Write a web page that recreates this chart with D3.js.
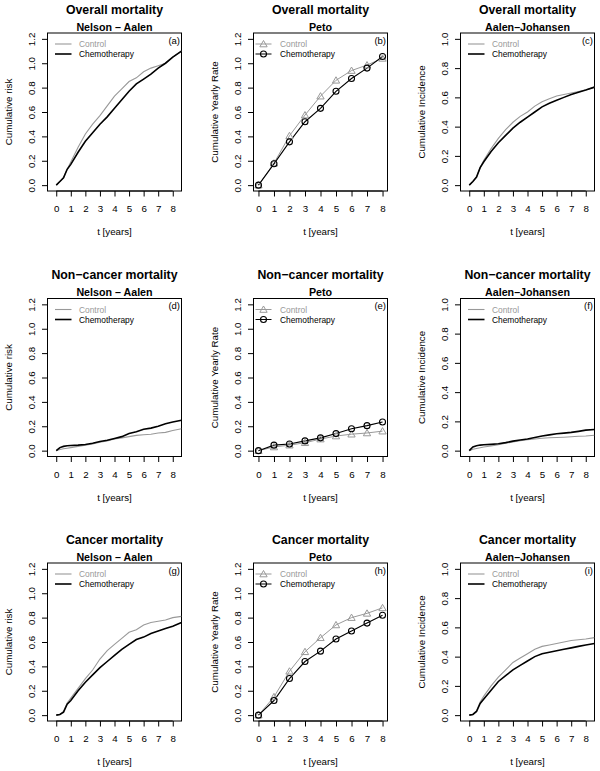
<!DOCTYPE html>
<html><head><meta charset="utf-8">
<script src="https://cdn.jsdelivr.net/npm/d3@7"></script>
<style>body{margin:0;background:#fff}svg{display:block;font-family:"Liberation Sans",Arial,sans-serif}</style>
</head><body>
<script>
// ---- data ----
const rowTitles = ["Overall mortality", "Non\u2212cancer mortality", "Cancer mortality"];
const colTitles = ["Nelson \u2013 Aalen", "Peto", "Aalen\u2013Johansen"];
const yLabels = ["Cumulative risk", "Cumulative Yearly Rate", "Cumulative Incidence"];
const panelTags = ["(a)","(b)","(c)","(d)","(e)","(f)","(g)","(h)","(i)"];
const seriesNames = ["Control", "Chemotherapy"];
const xTicks = [0,1,2,3,4,5,6,7,8];
const yTicksRisk = [0,0.2,0.4,0.6,0.8,1.0,1.2];
const yTicksInc = [0,0.2,0.4,0.6,0.8,1.0];

const tGrid = [0,0.25,0.5,0.75,1,1.5,2,2.5,3,3.5,4,4.5,5,5.5,6,6.5,7,7.5,8,8.6];
const petoYears = [0,1,2,3,4,5,6,7,8];

const naOverallControl = [0,0.03,0.06,0.13,0.19,0.31,0.42,0.50,0.57,0.65,0.73,0.79,0.85,0.88,0.93,0.96,0.98,1.00,1.05,1.10];
const naOverallChemo   = [0,0.03,0.06,0.13,0.17,0.27,0.36,0.43,0.50,0.56,0.63,0.70,0.77,0.83,0.87,0.91,0.96,1.00,1.05,1.10];
const petoOverallControl = [0,0.18,0.405,0.575,0.73,0.86,0.94,0.985,1.04];
const petoOverallChemo   = [0,0.175,0.355,0.52,0.63,0.77,0.875,0.96,1.055];
const ajOverallControl = [0,0.025,0.055,0.12,0.17,0.25,0.32,0.38,0.43,0.47,0.50,0.54,0.57,0.59,0.61,0.62,0.63,0.64,0.65,0.67];
const ajOverallChemo   = [0,0.025,0.055,0.12,0.16,0.23,0.29,0.34,0.39,0.43,0.465,0.50,0.535,0.56,0.58,0.60,0.62,0.635,0.65,0.67];

const naNonCancerControl = [0,0.01,0.015,0.02,0.025,0.035,0.045,0.055,0.07,0.08,0.095,0.105,0.115,0.125,0.13,0.135,0.145,0.15,0.165,0.18];
const naNonCancerChemo   = [0,0.025,0.035,0.04,0.042,0.045,0.05,0.06,0.075,0.085,0.10,0.115,0.14,0.155,0.175,0.185,0.20,0.22,0.235,0.25];
const petoNonCancerControl = [0,0.03,0.045,0.065,0.095,0.12,0.135,0.145,0.16];
const petoNonCancerChemo   = [0,0.045,0.055,0.08,0.105,0.14,0.18,0.205,0.235];
const ajNonCancerControl = [0,0.01,0.015,0.02,0.025,0.032,0.04,0.05,0.06,0.068,0.075,0.08,0.085,0.088,0.09,0.092,0.095,0.098,0.10,0.105];
const ajNonCancerChemo   = [0,0.025,0.033,0.038,0.04,0.043,0.047,0.055,0.065,0.073,0.08,0.09,0.10,0.108,0.115,0.12,0.125,0.132,0.14,0.145];

const naCancerControl = [0,0.005,0.03,0.10,0.14,0.22,0.30,0.37,0.46,0.53,0.58,0.63,0.68,0.70,0.74,0.76,0.77,0.78,0.80,0.81];
const naCancerChemo   = [0,0.005,0.025,0.09,0.12,0.20,0.27,0.33,0.39,0.44,0.49,0.54,0.58,0.62,0.64,0.67,0.69,0.71,0.73,0.76];
const petoCancerControl = [0,0.15,0.36,0.52,0.635,0.74,0.80,0.835,0.88];
const petoCancerChemo   = [0,0.12,0.30,0.44,0.525,0.625,0.69,0.755,0.82];
const ajCancerControl = [0,0.005,0.03,0.09,0.13,0.20,0.26,0.31,0.36,0.39,0.42,0.45,0.47,0.48,0.49,0.50,0.51,0.515,0.52,0.53];
const ajCancerChemo   = [0,0.005,0.025,0.08,0.11,0.17,0.23,0.27,0.31,0.34,0.37,0.40,0.42,0.43,0.44,0.45,0.46,0.47,0.48,0.49];

const panelData = [
  [[naOverallControl, naOverallChemo], [petoOverallControl, petoOverallChemo], [ajOverallControl, ajOverallChemo]],
  [[naNonCancerControl, naNonCancerChemo], [petoNonCancerControl, petoNonCancerChemo], [ajNonCancerControl, ajNonCancerChemo]],
  [[naCancerControl, naCancerChemo], [petoCancerControl, petoCancerChemo], [ajCancerControl, ajCancerChemo]]
];

// ---- layout ----
const W = 600, H = 771;
const boxLeft = [47.5, 253.5, 460.5], boxW = 134;
const boxTop = [33, 298.5, 563], boxH = 158;
const GRAY = "#999999";
const svg = d3.select("body").append("svg").attr("width", W).attr("height", H);

for (let r = 0; r < 3; r++) {
  for (let c = 0; c < 3; c++) {
    const L = boxLeft[c], T = boxTop[r];
    const g = svg.append("g");
    const isPeto = c === 1, isAJ = c === 2;
    const x = d3.scaleLinear().domain(isPeto ? [-0.32, 8.32] : [-0.6, 8.6]).range([L, L + boxW]);
    const y = d3.scaleLinear().domain(isAJ ? [-0.04, 1.04] : [-0.048, 1.248]).range([T + boxH, T]);
    const cx = L + boxW / 2;

    // titles
    g.append("text").attr("x", cx).attr("y", T - 19.5).attr("text-anchor", "middle")
      .attr("font-size", 12.3).attr("font-weight", "bold").text(rowTitles[r]);
    g.append("text").attr("x", cx).attr("y", T - 2.5).attr("text-anchor", "middle")
      .attr("font-size", 10.7).attr("font-weight", "bold").text(colTitles[c]);

    // axes
    const xa = g.append("g").attr("transform", `translate(0,${T + boxH})`)
      .call(d3.axisBottom(x).tickValues(xTicks).tickSize(5.5).tickPadding(4).tickFormat(d3.format("d")));
    xa.select(".domain").attr("d", `M${x(0)},0H${x(8)}`).attr("stroke", "#000");
    xa.selectAll("text").attr("font-size", 9.75).attr("dy", null).attr("y", 21);
    xa.attr("font-family", null);

    const yt = isAJ ? yTicksInc : yTicksRisk;
    const ya = g.append("g").attr("transform", `translate(${L},0)`)
      .call(d3.axisLeft(y).tickValues(yt).tickSize(5.5).tickFormat(d3.format(".1f")));
    ya.select(".domain").attr("d", `M0,${y(yt[0])}V${y(yt[yt.length - 1])}`).attr("stroke", "#000");
    ya.attr("font-family", null);
    ya.selectAll(".tick text").attr("font-size", 9.75).attr("x", null).attr("dy", null)
      .attr("text-anchor", "middle").attr("transform", "translate(-12.5,0) rotate(-90)").attr("y", 0);

    // axis titles
    g.append("text").attr("x", cx).attr("y", T + boxH + 44).attr("text-anchor", "middle")
      .attr("font-size", 9.75).text("t [years]");
    g.append("text").attr("transform", `translate(${L - 36},${T + boxH / 2}) rotate(-90)`)
      .attr("text-anchor", "middle").attr("font-size", 9.75).text(yLabels[c]);

    // box
    g.append("rect").attr("x", L).attr("y", T).attr("width", boxW).attr("height", boxH)
      .attr("fill", "none").attr("stroke", "#000").attr("stroke-width", 1);

    // clip
    const clipId = `clip${r}${c}`;
    svg.append("clipPath").attr("id", clipId).append("rect")
      .attr("x", L).attr("y", T).attr("width", boxW).attr("height", boxH);
    const pg = g.append("g").attr("clip-path", `url(#${clipId})`);

    const [ctrl, chemo] = panelData[r][c];
    const times = isPeto ? petoYears : tGrid;
    const line = d3.line().x((d, i) => x(times[i])).y(d => y(d));
    const tri = d3.symbol().type(d3.symbolTriangle).size(23);

    if (isPeto) {
      pg.append("path").attr("d", line(ctrl)).attr("fill", "none").attr("stroke", GRAY).attr("stroke-width", 1);
      pg.append("path").attr("d", line(chemo)).attr("fill", "none").attr("stroke", "#000").attr("stroke-width", 1.1);
      pg.selectAll(".tri").data(ctrl).join("path")
        .attr("transform", (d, i) => `translate(${x(times[i])},${y(d) + 0.7})`)
        .attr("d", tri).attr("fill", "none").attr("stroke", GRAY).attr("stroke-width", 1);
      pg.selectAll(".circ").data(chemo).join("circle")
        .attr("cx", (d, i) => x(times[i])).attr("cy", d => y(d)).attr("r", 3)
        .attr("fill", "none").attr("stroke", "#000").attr("stroke-width", 1.1);
    } else {
      pg.append("path").attr("d", line(ctrl)).attr("fill", "none").attr("stroke", GRAY).attr("stroke-width", 1.1);
      pg.append("path").attr("d", line(chemo)).attr("fill", "none").attr("stroke", "#000").attr("stroke-width", 1.6);
    }

    // legend
    const ly = [T + 11, T + 21];
    const lx0 = isPeto ? L + 2 : L + 7.5, lx1 = isPeto ? L + 18 : L + 24, tx = isPeto ? L + 26.5 : L + 31.5;
    seriesNames.forEach((name, k) => {
      const col = k === 0 ? GRAY : "#000";
      g.append("line").attr("x1", lx0).attr("x2", lx1).attr("y1", ly[k]).attr("y2", ly[k])
        .attr("stroke", col).attr("stroke-width", isPeto ? 1 : (k === 0 ? 1.1 : 1.6));
      if (isPeto) {
        const mx = (lx0 + lx1) / 2;
        if (k === 0) {
          g.append("path").attr("transform", `translate(${mx},${ly[k] + 0.7})`)
            .attr("d", tri).attr("fill", "none").attr("stroke", GRAY);
        } else {
          g.append("circle").attr("cx", mx).attr("cy", ly[k]).attr("r", 3)
            .attr("fill", "none").attr("stroke", "#000").attr("stroke-width", 1.1);
        }
      }
      g.append("text").attr("x", tx).attr("y", ly[k] + 3).attr("font-size", 8.4)
        .attr("fill", col).text(name);
    });
    g.append("text").attr("x", L + boxW - 1.5).attr("y", T + 10.5).attr("text-anchor", "end")
      .attr("font-size", 9.5).text(panelTags[r * 3 + c]);
  }
}
</script>
</body></html>
